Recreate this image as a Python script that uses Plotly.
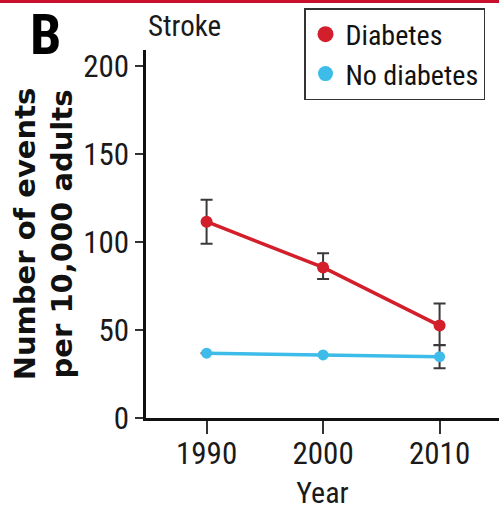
import plotly.graph_objects as go

# Stroke event rates per 10,000 adults
years = [1990, 2000, 2010]
diabetes = [111.5, 85.5, 52.5]
diabetes_err_plus = [12.5, 8.0, 12.5]
diabetes_err_minus = [12.5, 6.5, 11.0]
no_diabetes = [36.8, 35.8, 34.8]
no_diabetes_err = [None, None, 6.5]

y_ticks = [0, 50, 100, 150, 200]
x_ticks = [1990, 2000, 2010]

RED = "#d21f2b"
BLUE = "#3dbbe9"
ERR = "#3a3a3a"
COND = "Roboto Condensed, Liberation Sans Narrow, Arial, sans-serif"

W, H = 499, 513
ML, MR, MT, MB = 146, 0, 50, 95

fig = go.Figure()

fig.add_trace(go.Scatter(
    x=years, y=diabetes, mode="lines+markers", showlegend=False,
    line=dict(color=RED, width=3.5),
    marker=dict(color=RED, size=12),
    error_y=dict(type="data", symmetric=False, array=diabetes_err_plus,
                 arrayminus=diabetes_err_minus, color=ERR, thickness=2, width=6),
))
fig.add_trace(go.Scatter(
    x=years, y=no_diabetes, mode="lines+markers", showlegend=False,
    line=dict(color=BLUE, width=3.5),
    marker=dict(color=BLUE, size=11),
    error_y=dict(type="data", array=no_diabetes_err, color=ERR, thickness=2, width=6),
))

# legend entries shown as plain dots
fig.add_trace(go.Scatter(x=[None], y=[None], mode="markers", name="Diabetes",
                         marker=dict(color=RED, size=16)))
fig.add_trace(go.Scatter(x=[None], y=[None], mode="markers", name="No diabetes",
                         marker=dict(color=BLUE, size=15)))

pw = W - ML - MR
ph = H - MT - MB

fig.update_layout(
    width=W, height=H,
    margin=dict(l=ML, r=MR, t=MT, b=MB, autoexpand=False),
    paper_bgcolor="white", plot_bgcolor="white",
    font=dict(family=COND, color="#1a1a1a", size=29),
    legend=dict(
        x=(304 - ML) / pw, y=1 + (MT - 8) / ph, xanchor="left", yanchor="top",
        bordercolor="#333333", borderwidth=1.5, bgcolor="white",
        font=dict(family=COND, size=28, color="#111111"),
        itemsizing="trace", tracegroupgap=0,
    ),
    xaxis=dict(
        range=[1984.8, 2015.1], tickvals=x_ticks, ticks="outside", ticklen=13,
        tickwidth=2, tickcolor="#333333", showline=True, linecolor="#111111",
        linewidth=3, showgrid=False, zeroline=False, ticklabelstandoff=-7,
        tickfont=dict(family=COND, size=31, color="#1a1a1a"),
        title=dict(text="Year", font=dict(family=COND, size=30, color="#1a1a1a"),
                   standoff=11),
    ),
    yaxis=dict(
        range=[0, 209], tickvals=y_ticks, ticks="outside", ticklen=8,
        tickwidth=2, tickcolor="#333333", showline=True, linecolor="#111111",
        linewidth=2.5, showgrid=False, zeroline=False,
        tickfont=dict(family=COND, size=31, color="#1a1a1a"),
        title=dict(text="<b>Number of events<br>per 10,000 adults</b>",
                   font=dict(family="DejaVu Sans, sans-serif", size=29, color="#111111"),
                   standoff=2),
    ),
    annotations=[
        dict(text="<b>B</b>", xref="paper", yref="paper",
             x=(28 - ML) / pw, y=1 + MT / ph, xanchor="left", yanchor="top",
             showarrow=False, font=dict(family=COND, size=56, color="#000000")),
        dict(text="Stroke", xref="paper", yref="paper",
             x=(146 - ML) / pw, y=1 + (MT - 7) / ph, xanchor="left", yanchor="top",
             showarrow=False, font=dict(family=COND, size=29, color="#1a1a1a")),
    ],
    shapes=[
        dict(type="rect", xref="paper", yref="paper", layer="above",
             x0=-ML / pw, x1=1 + MR / pw, y0=1 + (MT - 3) / ph, y1=1 + MT / ph,
             fillcolor="#c8102e", line=dict(width=0)),
    ],
)

fig.write_html("out.html")
